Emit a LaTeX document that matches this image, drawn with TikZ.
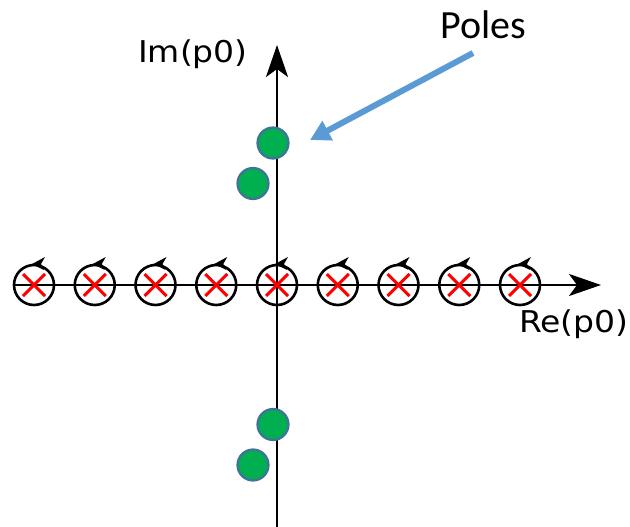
\documentclass[tikz,border=0pt]{standalone}
\usepackage{fontspec}
\setmainfont{Carlito}
\newfontfamily\axisfont{DejaVu Sans}
\usetikzlibrary{arrows.meta}
\definecolor{polegreen}{HTML}{00B050}
\definecolor{poleedge}{HTML}{41719C}
\definecolor{arrowblue}{HTML}{5B9BD5}
\tikzset{
  axisline/.style={line width=2.8bp, black, -{Stealth[length=32bp,width=22bp,inset=8bp]}},
  ringnode/.style={circle, draw=black, line width=2.6bp, minimum size=40bp, inner sep=0pt},
  crossline/.style={red, line width=3bp},
  polenode/.style={circle, fill=polegreen, draw=poleedge, line width=2.2bp, minimum size=31bp, inner sep=0pt},
  axislabel/.style={font=\axisfont\fontsize{30bp}{34bp}\selectfont, inner sep=0pt, anchor=base west},
  poleslabel/.style={font=\fontsize{40bp}{46bp}\selectfont, inner sep=0pt, anchor=base west},
  pointer/.style={arrowblue, line width=6bp, -{Triangle[length=20bp,width=21bp]}}
}
\begin{document}
\begin{tikzpicture}[x=1bp, y=-1bp]
\useasboundingbox (0,0) rectangle (630,527);
% axes
\coordinate (xs) at (14,285);
\coordinate (xe) at (601,285);
\coordinate (ys) at (277,527);
\coordinate (ye) at (277,45);
\draw[axisline] (xs) -- (xe);
\draw[axisline] (ys) -- (ye);
% rings with crosses
\foreach \i in {0,...,8} {
  \pgfmathsetmacro{\cx}{34+60.75*\i}
  \node[ringnode] (r\i) at (\cx,285) {};
  \draw[crossline] ([shift={(-11,-11)}]r\i.center) -- ([shift={(11,11)}]r\i.center);
  \draw[crossline] ([shift={(-11,11)}]r\i.center) -- ([shift={(11,-11)}]r\i.center);
  \fill[black] ([shift={(-2,-21)}]r\i.center) -- ([shift={(11,-28)}]r\i.center)
     -- ([shift={(7,-21)}]r\i.center) -- ([shift={(10,-15)}]r\i.center) -- cycle;
}
% poles
\node[polenode] (p1) at (273,143) {};
\node[polenode] (p2) at (253,183.5) {};
\node[polenode] (p3) at (273,424.5) {};
\node[polenode] (p4) at (253,465) {};
% labels
\node[axislabel] (im) at (138,63) {\scalebox{1.1}[1]{Im(p0)}};
\node[axislabel] (re) at (519,332) {\scalebox{1.1}[1]{Re(p0)}};
\node[poleslabel] (poles) at (440,39) {Poles};
% pointer
\coordinate (ps) at (473,53);
\coordinate (pe) at (310,140);
\draw[pointer] (ps) -- (pe);
\end{tikzpicture}
\end{document}
